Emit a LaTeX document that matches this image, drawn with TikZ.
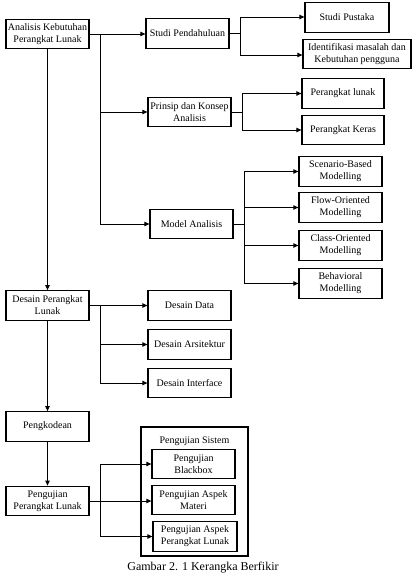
\documentclass[tikz,border=0pt]{standalone}
\usepackage{fontspec}
\setmainfont{Liberation Serif}
\usetikzlibrary{arrows.meta}
\begin{document}
\begin{tikzpicture}[x=1pt,y=-1pt,
  bx/.style={draw,line width=1.3pt,rectangle,align=center,inner sep=0pt,
    minimum width=83pt,minimum height=29.5pt,font=\fontsize{10}{12}\selectfont},
  ln/.style={line width=0.8pt},
  ar/.style={ln,-{Triangle[length=5pt,width=4.5pt]}}]
\useasboundingbox (0,0) rectangle (412,575);
% main column
\node[bx] (A) at (47.5,34) {Analisis Kebutuhan\\Perangkat Lunak};
\node[bx] (DPL) at (47.5,305.5) {Desain Perangkat\\Lunak};
\node[bx] (PKD) at (47.5,426.5) {Pengkodean};
\node[bx] (PPL) at (47.5,501) {Pengujian\\Perangkat Lunak};
% second column
\node[bx] (SP) at (187.5,33.5) {Studi Pendahuluan};
\node[bx] (PK) at (189.5,112) {Prinsip dan Konsep\\Analisis};
\node[bx] (MA) at (191.5,224) {Model Analisis};
\node[bx] (DD) at (189.5,305.5) {Desain Data};
\node[bx] (DA) at (189.5,344.5) {Desain Arsitektur};
\node[bx] (DI) at (189.5,383) {Desain Interface};
% third column
\node[bx,minimum width=84pt] (StP) at (347,17.5) {Studi Pustaka};
\node[bx,minimum width=108pt] (Id) at (357,54) {Identifikasi masalah dan\\Kebutuhan pengguna};
\node[bx,minimum width=82pt] (PLu) at (343,93.5) {Perangkat lunak};
\node[bx,minimum width=82pt] (PKe) at (343,130) {Perangkat Keras};
\node[bx] (SB) at (340.5,171.5) {Scenario-Based\\Modelling};
\node[bx] (FO) at (340.5,207.5) {Flow-Oriented\\Modelling};
\node[bx] (CO) at (340.5,245.5) {Class-Oriented\\Modelling};
\node[bx] (BM) at (340.5,283.5) {Behavioral\\Modelling};
% testing group
\node[draw,line width=1.1pt,minimum width=107pt,minimum height=129pt,inner sep=0pt] (OS) at (194.5,491.5) {};
\node[font=\fontsize{10}{12}\selectfont,inner sep=0pt] (OT) at (194.5,441) {Pengujian Sistem};
\node[bx] (BB) at (193.5,464) {Pengujian\\Blackbox};
\node[bx] (AM) at (193.5,500) {Pengujian Aspek\\Materi};
\node[bx,minimum width=84pt] (AP) at (195,536.5) {Pengujian Aspek\\Perangkat Lunak};
\node[font=\fontsize{12}{14}\selectfont,inner sep=0pt,anchor=base] (cap) at (203,570) {Gambar 2. 1 Kerangka Berfikir};
% main vertical arrows
\draw[ar] (A.south) -- (DPL.north);
\draw[ar] (DPL.south) -- (PKD.north);
\draw[ar] (PKD.south) -- (PPL.north);
% analysis branch
\coordinate (t1) at (100,34);
\draw[ar] (A.east) -- (A.east -| SP.west);
\draw[ar] (t1) |- (PK.west);
\draw[ar] (t1) |- (MA.west);
% studi pendahuluan branch
\coordinate (b1) at (240,33.5);
\draw[ln] (SP.east) -- (b1);
\draw[ar] (b1) |- ([yshift=0.5pt]StP.west);
\draw[ar] (b1) |- ([yshift=-1pt]Id.west);
% prinsip branch
\coordinate (b2) at (242,112);
\draw[ln] (PK.east) -- (b2);
\draw[ar] (b2) |- (PLu.west);
\draw[ar] (b2) |- (PKe.west);
% model analisis branch
\coordinate (b3) at (244,224);
\draw[ln] (MA.east) -- (b3);
\draw[ar] (b3) |- (SB.west);
\draw[ar] (b3) |- (FO.west);
\draw[ar] (b3) |- (CO.west);
\draw[ar] (b3) |- (BM.west);
% desain branch
\coordinate (t2) at (100,305.5);
\draw[ar] (DPL.east) -- (DD.west);
\draw[ar] (t2) |- (DA.west);
\draw[ar] (t2) |- (DI.west);
% pengujian branch
\coordinate (t3) at (100,500);
\draw[ar] (PPL.east) -- (PPL.east -| AM.west);
\draw[ar] (t3) |- (BB.west);
\draw[ar] (t3) |- (AP.west);
\end{tikzpicture}
\end{document}
